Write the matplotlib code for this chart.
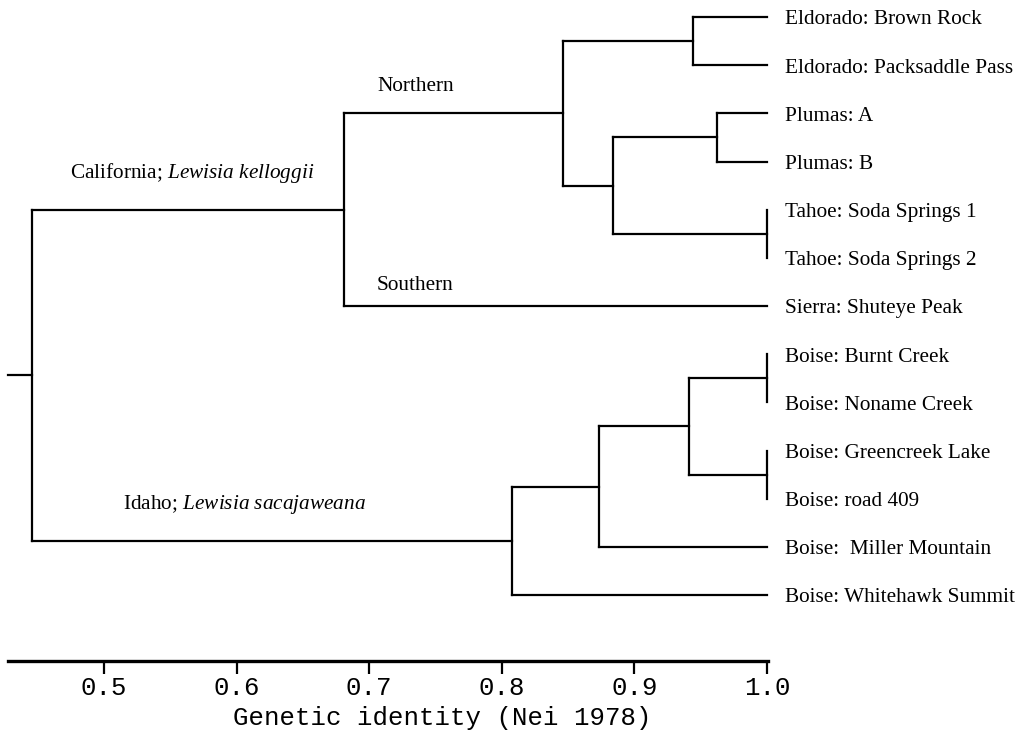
""" Dendrogram of genetic identity (Nei 1978) among Lewisia populations """
import matplotlib
matplotlib.use('Agg')
import matplotlib.pyplot as plt

plt.rcParams['mathtext.fontset'] = 'custom'
plt.rcParams['mathtext.rm'] = 'Liberation Serif'
plt.rcParams['mathtext.it'] = 'Liberation Serif:italic'

# leaves, top to bottom
leaves = ['Eldorado: Brown Rock', 'Eldorado: Packsaddle Pass', 'Plumas: A', 'Plumas: B',
          'Tahoe: Soda Springs 1', 'Tahoe: Soda Springs 2', 'Sierra: Shuteye Peak',
          'Boise: Burnt Creek', 'Boise: Noname Creek', 'Boise: Greencreek Lake',
          'Boise: road 409', 'Boise:  Miller Mountain', 'Boise: Whitehawk Summit']

# merges: (child a, child b, genetic identity); new node ids start at len(leaves)
merge_a = [0, 2, 4, 14, 13, 17, 7, 9, 19, 21, 22, 18]
merge_b = [1, 3, 5, 15, 16, 6, 8, 10, 20, 11, 12, 23]
identity = [0.944, 0.962, 1.0, 0.884, 0.846, 0.681, 1.0, 1.0, 0.941, 0.873, 0.808, 0.446]

ticks = [0.5, 0.6, 0.7, 0.8, 0.9, 1.0]
tick_labels = ['0.5', '0.6', '0.7', '0.8', '0.9', '1.0']

fig = plt.figure(figsize=(10.24, 7.33), dpi=100)
ax = fig.add_axes([0, 0, 1, 1])
ax.set_xlim(0.4216, 1.1938)
ax.set_ylim(14.864, -0.353)

lw = 1.6
xs = [1.0] * len(leaves)
ys = list(range(len(leaves)))
for a, b, h in zip(merge_a, merge_b, identity):
    ax.plot([h, h], [ys[a], ys[b]], color='black', lw=lw, solid_capstyle='projecting')
    for c in (a, b):
        if xs[c] > h:
            ax.plot([h, xs[c]], [ys[c], ys[c]], color='black', lw=lw, solid_capstyle='projecting')
    xs.append(h)
    ys.append((ys[a] + ys[b]) / 2)

# root stub
ax.plot([0.4276, xs[-1]], [ys[-1], ys[-1]], color='black', lw=lw)

for i, name in enumerate(leaves):
    ax.text(1.0136, i + 0.06, name, ha='left', va='center',
            fontsize=15.3, family='Liberation Serif')

serif = dict(ha='left', va='center', fontsize=15.3, family='Liberation Serif')
ax.text(0.4744, 3.24, r'California; $\mathit{Lewisia\ kelloggii}$', **serif)
ax.text(0.7059, 1.45, 'Northern', **serif)
ax.text(0.7059, 5.58, 'Southern', **serif)
ax.text(0.5143, 10.13, r'Idaho; $\mathit{Lewisia\ sacajaweana}$', **serif)

# x axis
for s in ['top', 'right', 'left']:
    ax.spines[s].set_visible(False)
ax.spines['bottom'].set_position(('data', 13.37))
ax.spines['bottom'].set_bounds(0.4276, 1.001)
ax.spines['bottom'].set_linewidth(2.4)
ax.set_yticks([])
ax.set_xticks(ticks)
ax.set_xticklabels(tick_labels, family='Liberation Mono', fontsize=18.5)
ax.tick_params(axis='x', direction='out', length=9, width=1.6, pad=2)
ax.text(0.7553, 14.55, 'Genetic identity (Nei 1978)', ha='center', va='center',
        family='Liberation Mono', fontsize=18.5)

fig.savefig('out.png', dpi=100)
